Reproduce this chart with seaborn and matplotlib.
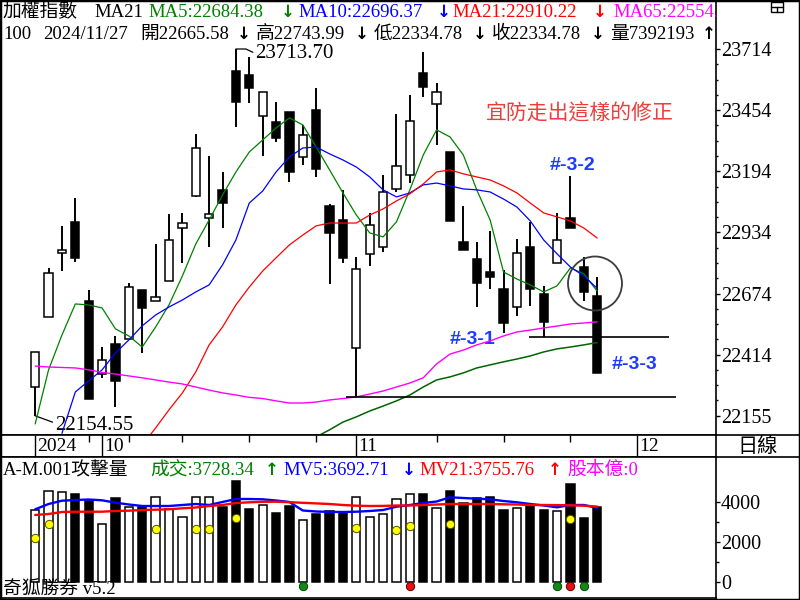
import numpy as np
import matplotlib
matplotlib.use("Agg")
import matplotlib.pyplot as plt
import seaborn as sns
from matplotlib.patches import Ellipse, Rectangle
from matplotlib.lines import Line2D

# 加權指數 daily bars, 2024/09/24 .. 2024/11/27
opens = [22277, 22575, 22847, 22978, 22643, 22332, 22460, 22481, 22690, 22643,
         22728, 22953, 23089, 22996, 23115, 23620, 23603, 23429, 23404, 23446,
         23255, 23455, 23047, 22987, 22443, 22843, 22872, 23119, 23178, 23612,
         23480, 23276, 22894, 22821, 22766, 22694, 22617, 22872, 22673, 22804,
         22996, 22787, 22665.58]
highs = [22426, 22783, 22962, 23081, 22690, 22447, 22494, 22719, 22690, 22885,
         23013, 23017, 23353, 23259, 23191, 23713.70, 23680, 23531, 23489, 23446,
         23391, 23548, 23055, 23115, 22830, 23017, 23178, 23438, 23518, 23701,
         23569, 23276, 23047, 22894, 22940, 22775, 22906, 22979, 22707, 23017,
         23174, 22830, 22743.99]
lows = [22154.55, 22575, 22770, 22809, 22226, 22316, 22192, 22481, 22422, 22643,
        22728, 22804, 23085, 22872, 22953, 23382, 23484, 23259, 23319, 23149,
        23221, 23170, 22715, 22804, 22235, 22792, 22851, 23106, 23144, 23510,
        23306, 22983, 22860, 22617, 22694, 22507, 22579, 22622, 22490, 22804,
        22953, 22643, 22334.78]
closes = [22426, 22762, 22860, 22826, 22226, 22392, 22303, 22702, 22613, 22660,
          22902, 22974, 23293, 23013, 23059, 23489, 23548, 23531, 23336, 23191,
          23348, 23204, 22932, 22826, 22779, 22966, 23106, 23217, 23408, 23552,
          23531, 22983, 22860, 22719, 22745, 22549, 22847, 22694, 22554, 22902,
          22953, 22681, 22334.78]

# moving averages (start = first bar index drawn)
ma5 = [22120, 22350, 22498, 22630, 22626, 22613, 22524, 22494, 22447, 22532,
       22626, 22749, 22885, 22987, 23093, 23191, 23276, 23327, 23378, 23421,
       23391, 23297, 23200, 23102, 23008, 22932, 22915, 22979, 23115, 23263,
       23370, 23340, 23263, 23115, 22987, 22766, 22736, 22711, 22681, 22707,
       22783, 22758, 22684.38]
ma10 = [22080, 22256, 22303, 22350, 22422, 22477, 22537, 22583, 22617, 22647,
        22681, 22711, 22796, 22902, 23059, 23110, 23191, 23255, 23293, 23297,
        23268, 23242, 23212, 23170, 23115, 23085, 23102, 23136, 23144, 23132,
        23119, 23115, 23106, 23076, 23042, 22983, 22902, 22843, 22787, 22749,
        22696.37]
ma21 = [22030, 22103, 22180, 22252, 22341, 22456, 22532, 22626, 22702, 22770,
        22826, 22881, 22923, 22962, 22974, 22974, 22974, 23008, 23034, 23068,
        23098, 23140, 23191, 23200, 23183, 23170, 23157, 23132, 23102, 23059,
        23017, 23000, 22983, 22953, 22910.22]
ma65 = [22366, 22362, 22360, 22358, 22350, 22339, 22332, 22324, 22316, 22307,
        22298, 22290, 22277, 22264, 22252, 22243, 22233, 22228, 22218, 22209,
        22209, 22213, 22222, 22228, 22235, 22247, 22260, 22277, 22294, 22316,
        22375, 22417, 22434, 22456, 22473, 22494, 22511, 22519, 22528, 22536,
        22545, 22549, 22554]
ma_long = [22030, 22065, 22095, 22128, 22150, 22175, 22196, 22218, 22243, 22277,
           22307, 22320, 22337, 22358, 22371, 22384, 22396, 22409, 22426, 22439,
           22447, 22456, 22466]
ma10_start, ma21_start, ma_long_start = 2, 8, 20

# 攻擊量 panel
volume = [3585, 4535, 4500, 4385, 4050, 2870, 4170, 3720, 3750, 4220,
          3620, 3220, 4220, 4220, 3750, 5050, 3635, 3820, 3450, 3785,
          3085, 3385, 3535, 3450, 4220, 3220, 3370, 4120, 4400, 4400,
          3680, 4550, 3930, 4180, 4230, 3600, 3680, 3850, 3600, 3550,
          4900, 3180, 3728.34]
mv5 = [3620, 3885, 4050, 4085, 4110, 4070, 3950, 3860, 3785, 3785,
       3785, 3835, 3885, 3835, 3985, 4135, 4135, 4120, 4060, 3985,
       3560, 3510, 3490, 3485, 3500, 3535, 3585, 3750, 3835, 3935,
       4010, 4220, 4185, 4150, 4120, 4035, 3970, 3885, 3810, 3720,
       3835, 3835, 3692.71]
mv21 = [3335, 3385, 3485, 3500, 3500, 3500, 3535, 3550, 3585, 3600,
        3620, 3670, 3710, 3785, 3835, 3935, 3970, 3995, 4000, 3975,
        3945, 3915, 3885, 3835, 3800, 3785, 3790, 3810, 3810, 3835,
        3860, 3885, 3885, 3885, 3885, 3870, 3860, 3835, 3835, 3830,
        3820, 3800, 3755.76]
yellow_idx = [0, 1, 9, 12, 13, 15, 24, 27, 28, 31, 40]
yellow_val = [2200, 2870, 2635, 2635, 2635, 3200, 2700, 2600, 2785, 2885, 3120]
green_idx = [20, 39, 41]
red_idx = [28, 40]
signal_level = -200

date_pos = [0, 5, 24, 45]
date_labels = ['2024', '10', '11', '12']
week_pos = [4, 7, 11, 16, 21, 30, 35, 40]
price_ticks = [22155, 22414, 22674, 22934, 23194, 23454, 23714]
vol_ticks = [0, 2000, 4000]

sns.set_style("white", {"axes.edgecolor": "black", "text.color": "black",
                        "xtick.color": "black", "ytick.color": "black"})
plt.rcParams['font.family'] = ['Liberation Serif', 'Noto Sans CJK TC', 'DejaVu Sans']
plt.rcParams['axes.linewidth'] = 1.2

W, H = 800, 600
fig = plt.figure(figsize=(8, 6), dpi=100)

main_box = (0, 0, 716, 435)
date_box = (0, 435, 716, 457)
vol_box = (0, 457, 716, 598)


def rect(b):
    x0, y0, x1, y1 = b
    return [x0 / W, 1 - y1 / H, (x1 - x0) / W, (y1 - y0) / H]


ax = fig.add_axes(rect(main_box))
axd = fig.add_axes(rect(date_box))
axv = fig.add_axes(rect(vol_box))

n = len(closes)
idx = np.arange(n)
xlim = (-2.63, 50.88)
o, c = np.array(opens), np.array(closes)
fill = np.where(c >= o, 'white', 'black')

GREEN, BLUE, RED, MAG = '#008000', '#0000ff', '#ff0000', '#ff00ff'

# candles
ax.vlines(idx, lows, highs, color='black', lw=1.4, zorder=2)
ax.bar(idx, np.maximum(np.abs(c - o), 5), bottom=np.minimum(o, c), width=0.62,
       color=fill, edgecolor='black', lw=1.1, zorder=3)


def line(a, vals, start, color, lw):
    sns.lineplot(x=idx[start:start + len(vals)], y=vals, ax=a, color=color,
                 lw=lw, zorder=4, legend=False)


line(ax, ma5, 0, GREEN, 0.9)
line(ax, ma10, ma10_start, BLUE, 0.9)
line(ax, ma21, ma21_start, RED, 0.9)
line(ax, ma65, 0, MAG, 1.0)
line(ax, ma_long, ma_long_start, '#006400', 1.1)

# support lines, circle, labels
ax.hlines(lows[38], 36.9, 47.4, color='black', lw=1.2, zorder=5)
ax.hlines(lows[24], 23.2, 47.9, color='black', lw=1.2, zorder=5)
ax.plot([15, 15.75, 16.27], [highs[15], highs[15], highs[15] - 14], color='black', lw=0.9)
ax.plot([0, 1.3], [lows[0], lows[0] - 27], color='black', lw=0.9)
fig.add_artist(Ellipse((595 / W, 1 - 283.5 / H), 54 / W, 54 / H, fill=False,
                       ec='#3c3c3c', lw=1.3, transform=fig.transFigure))

ax.set_xlim(xlim)
ax.set_ylim(22073, 23922)
ax.set_xticks([])
ax.set_xlabel('')
ax.set_ylabel('')
ax.yaxis.tick_right()
ax.set_yticks(price_ticks)
ax.set_yticklabels([str(t) for t in price_ticks])
ax.set_yticks([t + k * 65 for t in price_ticks[:-1] for k in (1, 2, 3)], minor=True)
ax.tick_params(axis='y', which='major', right=True, left=False, labelright=True,
               labelleft=False, length=3, width=1, pad=0.5, labelsize=14.5)
ax.tick_params(axis='y', which='minor', right=True, left=False, length=1.5, width=1)

# volume panel
axv.bar(idx, volume, width=0.62, color=fill, edgecolor='black', lw=1.1, zorder=2)
line(axv, mv5, 0, BLUE, 1.7)
line(axv, mv21, 0, RED, 1.7)
sns.scatterplot(x=yellow_idx, y=yellow_val, ax=axv, color='#ffff00', edgecolor='#505000',
                s=36, lw=0.7, zorder=6, legend=False)
sns.scatterplot(x=green_idx, y=[signal_level] * len(green_idx), ax=axv, color='#138a13',
                edgecolor='#0b3d0b', s=36, lw=0.7, zorder=6, legend=False)
sns.scatterplot(x=red_idx, y=[signal_level] * len(red_idx), ax=axv, color='#e81010',
                edgecolor='#5a0000', s=36, lw=0.7, zorder=6, legend=False)
axv.set_xlim(xlim)
axv.set_ylim(-815, 6235)
axv.set_xticks([])
axv.set_xlabel('')
axv.set_ylabel('')
axv.yaxis.tick_right()
axv.set_yticks(vol_ticks)
axv.set_yticklabels([str(t) for t in vol_ticks])
axv.set_yticks([1000, 3000], minor=True)
axv.tick_params(axis='y', which='major', right=True, left=False, labelright=True,
                labelleft=False, length=3, width=1, pad=0.5, labelsize=14.5)
axv.tick_params(axis='y', which='minor', right=True, left=False, length=2, width=1)

# date strip
axd.set_xlim(xlim)
axd.set_ylim(0, 1)
axd.set_xticks([])
axd.set_yticks([])
axd.vlines(date_pos, 0, 1, color='black', lw=1)
axd.vlines(week_pos, 0.68, 1, color='black', lw=1)
for p, lab in zip(date_pos, date_labels):
    axd.annotate(lab, (p, 0.27), xytext=(1.2, 0), textcoords='offset points',
                 va='baseline', ha='left', fontsize=14)


def put(a, b, x, y, s, **kw):
    x0, y0, x1, y1 = b
    kw.setdefault('va', 'baseline')
    kw.setdefault('fontsize', 13.5)
    a.text((x - x0) / (x1 - x0), (y1 - y) / (y1 - y0), s, transform=a.transAxes,
           clip_on=True, **kw)


def arrow(a, b, x, y, s, color):
    put(a, b, x, y, s, color=color, family='DejaVu Sans', weight='bold', fontsize=12)


row1 = [("加權指數", 2, 'black'), ("MA21", 94, 'black'),
        (f"MA5:{ma5[-1]:.2f}", 148, GREEN), (f"MA10:{ma10[-1]:.2f}", 298, BLUE),
        (f"MA21:{ma21[-1]:.2f}", 452, RED), (f"MA65:{ma65[-1]:.2f}", 613, MAG)]
for s, x, col in row1:
    put(ax, main_box, x, 17, s, color=col)
for x, col in [(281, GREEN), (437, BLUE), (593, RED)]:
    arrow(ax, main_box, x, 17, "↓", col)

row2 = [("100", 3), ("2024/11/27", 43), (f"開{opens[-1]:.2f}", 140),
        (f"高{highs[-1]:.2f}", 256), (f"低{lows[-1]:.2f}", 374),
        (f"收{closes[-1]:.2f}", 492), ("量7392193", 610)]
for s, x in row2:
    put(ax, main_box, x, 39, s, color='black')
for x, s in [(237, "↓"), (355, "↓"), (473, "↓"), (591, "↓"), (702, "↑")]:
    arrow(ax, main_box, x, 39, s, 'black')

put(ax, main_box, 255, 58, f"{highs[15]:.2f}", fontsize=15)
put(ax, main_box, 55, 430, f"{lows[0]:.2f}", fontsize=15)
put(ax, main_box, 580, 114, "宜防走出這樣的修正", color='#ee3b3b', fontsize=15,
    family='Noto Sans CJK TC', ha='center', va='center')
for s, x, y in [("#-3-2", 550, 170), ("#-3-1", 450, 344), ("#-3-3", 612, 369)]:
    put(ax, main_box, x, y, s, color='#1e3cff', fontsize=14,
        family='Liberation Sans', weight='bold')

vol_head = [("A-M.001攻擊量", 3, 'black'), (f"成交:{volume[-1]:.2f}", 150, GREEN),
            (f"MV5:{mv5[-1]:.2f}", 283, BLUE), (f"MV21:{mv21[-1]:.2f}", 419, RED),
            ("股本億:0", 567, MAG)]
for s, x, col in vol_head:
    put(axv, vol_box, x, 475, s, color=col)
for x, s, col in [(265, "↑", GREEN), (402, "↓", BLUE), (548, "↑", RED)]:
    arrow(axv, vol_box, x, 475, s, col)
put(axv, vol_box, 3, 595, "奇狐勝券 v5.2", color='black')

# right column frame pieces
for yy in (435, 457):
    fig.add_artist(Line2D([716 / W, 1], [1 - yy / H] * 2, color='black', lw=1.2,
                          transform=fig.transFigure))
fig.text(758 / W, 1 - 447 / H, "日線", ha='center', va='center', fontsize=14.5,
         family='Noto Sans CJK TC')
fig.add_artist(Rectangle((771 / W, 1 - 12 / H), 12 / W, 10 / H, fill=False, ec='black',
                         lw=1, transform=fig.transFigure))
fig.add_artist(Line2D([771 / W, 783 / W], [1 - 7 / H] * 2, color='black', lw=1,
                      transform=fig.transFigure))
fig.add_artist(Line2D([777 / W] * 2, [1 - 7 / H, 1 - 12 / H], color='black', lw=1,
                      transform=fig.transFigure))
fig.add_artist(Rectangle((0, 0), 1, 1, fill=False, ec='black', lw=2.5,
                         transform=fig.transFigure))

fig.savefig("out.png", dpi=100)
